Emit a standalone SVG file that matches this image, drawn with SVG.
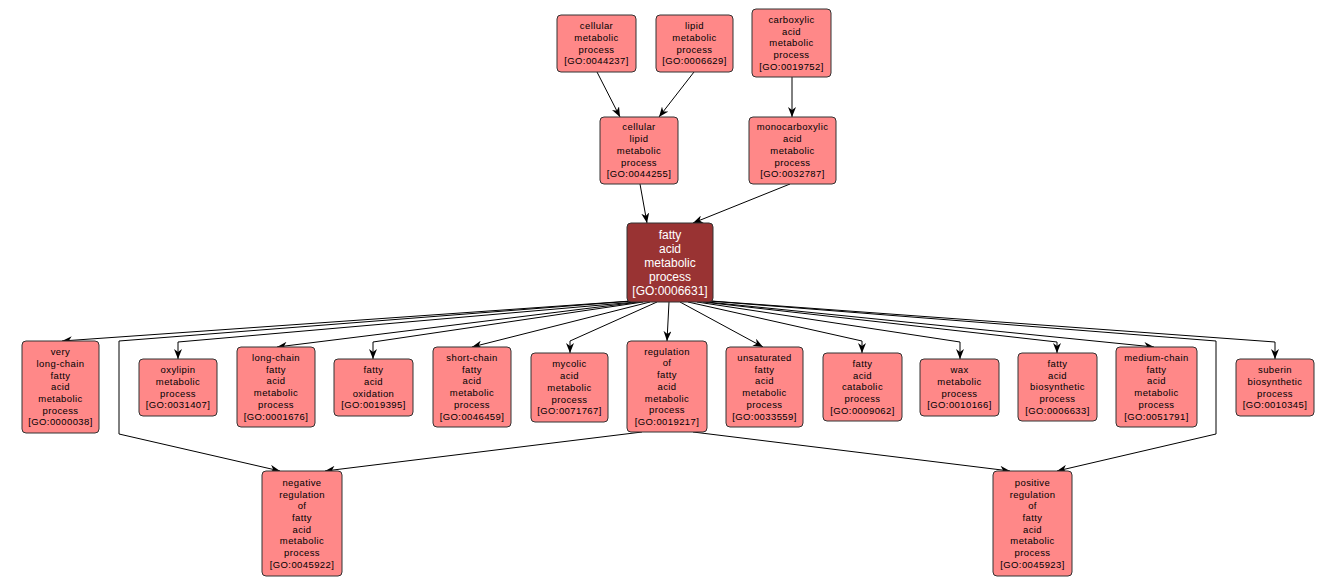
<svg xmlns="http://www.w3.org/2000/svg" width="1338" height="585" viewBox="0 0 1338 585">
<style>
.n rect{fill:#FF8888;stroke:#333;stroke-width:1}
.c rect{fill:#993333;stroke:#333;stroke-width:1}
.n text{font-family:"Liberation Sans",Arial,sans-serif;font-size:9.5px;letter-spacing:0.4px;fill:#000;text-anchor:middle}
.c text{font-family:"Liberation Sans",Arial,sans-serif;font-size:12px;fill:#fff;text-anchor:middle}
#edges path{fill:none;stroke:#000;stroke-width:1;marker-end:url(#a)}
</style>
<defs>
<marker id="a" markerWidth="10" markerHeight="8" refX="10" refY="4" orient="auto" markerUnits="userSpaceOnUse"><path d="M0,0 L10,4 L0,8 L3,4 z" fill="#000"/></marker>
</defs>
<rect width="1338" height="585" fill="#fff"/>
<g id="edges">
<path d="M597,72 L620,117"/>
<path d="M694,72 L659,117"/>
<path d="M792,77 L792,117"/>
<path d="M640,184 L647,223"/>
<path d="M790,184 L693,223"/>
<path d="M631,301 L62,341"/>
<path d="M633,301 L119,341 L119,434 L280,471"/>
<path d="M636,302 L178,342 L178,359"/>
<path d="M639,302 L277,347"/>
<path d="M643,302 L373,342 L373,359"/>
<path d="M650,302 L472,347"/>
<path d="M657,302 L570,341 L570,353"/>
<path d="M669,302 L667,341"/>
<path d="M680,302 L763,347"/>
<path d="M688,302 L862,341 L862,353"/>
<path d="M697,302 L960,342 L960,359"/>
<path d="M703,302 L1057,342 L1057,353"/>
<path d="M707,302 L1154,347"/>
<path d="M709,301 L1216,341 L1216,434 L1057,471"/>
<path d="M711,301 L1275,342 L1275,359"/>
<path d="M642,432 L325,471"/>
<path d="M693,432 L1010,471"/>
</g>
<g id="GO0044237" class="n"><rect x="557" y="15" width="79" height="57" rx="4"/><text y="29.25"><tspan x="596.5">cellular</tspan><tspan x="596.5" dy="11.7">metabolic</tspan><tspan x="596.5" dy="11.7">process</tspan><tspan x="596.5" dy="11.7">[GO:0044237]</tspan></text></g>
<g id="GO0006629" class="n"><rect x="656" y="15" width="77" height="57" rx="4"/><text y="29.25"><tspan x="694.5">lipid</tspan><tspan x="694.5" dy="11.7">metabolic</tspan><tspan x="694.5" dy="11.7">process</tspan><tspan x="694.5" dy="11.7">[GO:0006629]</tspan></text></g>
<g id="GO0019752" class="n"><rect x="752" y="9" width="79" height="68" rx="4"/><text y="22.9"><tspan x="791.5">carboxylic</tspan><tspan x="791.5" dy="11.7">acid</tspan><tspan x="791.5" dy="11.7">metabolic</tspan><tspan x="791.5" dy="11.7">process</tspan><tspan x="791.5" dy="11.7">[GO:0019752]</tspan></text></g>
<g id="GO0044255" class="n"><rect x="600" y="117" width="78" height="67" rx="4"/><text y="130.4"><tspan x="639">cellular</tspan><tspan x="639" dy="11.7">lipid</tspan><tspan x="639" dy="11.7">metabolic</tspan><tspan x="639" dy="11.7">process</tspan><tspan x="639" dy="11.7">[GO:0044255]</tspan></text></g>
<g id="GO0032787" class="n"><rect x="749" y="117" width="87" height="67" rx="4"/><text y="130.4"><tspan x="792.5">monocarboxylic</tspan><tspan x="792.5" dy="11.7">acid</tspan><tspan x="792.5" dy="11.7">metabolic</tspan><tspan x="792.5" dy="11.7">process</tspan><tspan x="792.5" dy="11.7">[GO:0032787]</tspan></text></g>
<g id="GO0006631" class="c"><rect x="627" y="223" width="86" height="79" rx="4"/><text y="238.8"><tspan x="670">fatty</tspan><tspan x="670" dy="14">acid</tspan><tspan x="670" dy="14">metabolic</tspan><tspan x="670" dy="14">process</tspan><tspan x="670" dy="14">[GO:0006631]</tspan></text></g>
<g id="GO0000038" class="n"><rect x="22" y="341" width="77" height="92" rx="4"/><text y="355.2"><tspan x="60.5">very</tspan><tspan x="60.5" dy="11.7">long-chain</tspan><tspan x="60.5" dy="11.7">fatty</tspan><tspan x="60.5" dy="11.7">acid</tspan><tspan x="60.5" dy="11.7">metabolic</tspan><tspan x="60.5" dy="11.7">process</tspan><tspan x="60.5" dy="11.7">[GO:0000038]</tspan></text></g>
<g id="GO0031407" class="n"><rect x="139" y="359" width="78" height="57" rx="4"/><text y="373.25"><tspan x="178">oxylipin</tspan><tspan x="178" dy="11.7">metabolic</tspan><tspan x="178" dy="11.7">process</tspan><tspan x="178" dy="11.7">[GO:0031407]</tspan></text></g>
<g id="GO0001676" class="n"><rect x="237" y="347" width="78" height="80" rx="4"/><text y="361.05"><tspan x="276">long-chain</tspan><tspan x="276" dy="11.7">fatty</tspan><tspan x="276" dy="11.7">acid</tspan><tspan x="276" dy="11.7">metabolic</tspan><tspan x="276" dy="11.7">process</tspan><tspan x="276" dy="11.7">[GO:0001676]</tspan></text></g>
<g id="GO0019395" class="n"><rect x="334" y="359" width="79" height="57" rx="4"/><text y="373.25"><tspan x="373.5">fatty</tspan><tspan x="373.5" dy="11.7">acid</tspan><tspan x="373.5" dy="11.7">oxidation</tspan><tspan x="373.5" dy="11.7">[GO:0019395]</tspan></text></g>
<g id="GO0046459" class="n"><rect x="433" y="347" width="78" height="80" rx="4"/><text y="361.05"><tspan x="472">short-chain</tspan><tspan x="472" dy="11.7">fatty</tspan><tspan x="472" dy="11.7">acid</tspan><tspan x="472" dy="11.7">metabolic</tspan><tspan x="472" dy="11.7">process</tspan><tspan x="472" dy="11.7">[GO:0046459]</tspan></text></g>
<g id="GO0071767" class="n"><rect x="531" y="353" width="77" height="69" rx="4"/><text y="367.4"><tspan x="569.5">mycolic</tspan><tspan x="569.5" dy="11.7">acid</tspan><tspan x="569.5" dy="11.7">metabolic</tspan><tspan x="569.5" dy="11.7">process</tspan><tspan x="569.5" dy="11.7">[GO:0071767]</tspan></text></g>
<g id="GO0019217" class="n"><rect x="627" y="341" width="80" height="91" rx="4"/><text y="354.7"><tspan x="667">regulation</tspan><tspan x="667" dy="11.7">of</tspan><tspan x="667" dy="11.7">fatty</tspan><tspan x="667" dy="11.7">acid</tspan><tspan x="667" dy="11.7">metabolic</tspan><tspan x="667" dy="11.7">process</tspan><tspan x="667" dy="11.7">[GO:0019217]</tspan></text></g>
<g id="GO0033559" class="n"><rect x="726" y="347" width="77" height="80" rx="4"/><text y="361.05"><tspan x="764.5">unsaturated</tspan><tspan x="764.5" dy="11.7">fatty</tspan><tspan x="764.5" dy="11.7">acid</tspan><tspan x="764.5" dy="11.7">metabolic</tspan><tspan x="764.5" dy="11.7">process</tspan><tspan x="764.5" dy="11.7">[GO:0033559]</tspan></text></g>
<g id="GO0009062" class="n"><rect x="823" y="353" width="79" height="68" rx="4"/><text y="366.9"><tspan x="862.5">fatty</tspan><tspan x="862.5" dy="11.7">acid</tspan><tspan x="862.5" dy="11.7">catabolic</tspan><tspan x="862.5" dy="11.7">process</tspan><tspan x="862.5" dy="11.7">[GO:0009062]</tspan></text></g>
<g id="GO0010166" class="n"><rect x="920" y="359" width="79" height="57" rx="4"/><text y="373.25"><tspan x="959.5">wax</tspan><tspan x="959.5" dy="11.7">metabolic</tspan><tspan x="959.5" dy="11.7">process</tspan><tspan x="959.5" dy="11.7">[GO:0010166]</tspan></text></g>
<g id="GO0006633" class="n"><rect x="1018" y="353" width="79" height="68" rx="4"/><text y="366.9"><tspan x="1057.5">fatty</tspan><tspan x="1057.5" dy="11.7">acid</tspan><tspan x="1057.5" dy="11.7">biosynthetic</tspan><tspan x="1057.5" dy="11.7">process</tspan><tspan x="1057.5" dy="11.7">[GO:0006633]</tspan></text></g>
<g id="GO0051791" class="n"><rect x="1116" y="347" width="81" height="80" rx="4"/><text y="361.05"><tspan x="1156.5">medium-chain</tspan><tspan x="1156.5" dy="11.7">fatty</tspan><tspan x="1156.5" dy="11.7">acid</tspan><tspan x="1156.5" dy="11.7">metabolic</tspan><tspan x="1156.5" dy="11.7">process</tspan><tspan x="1156.5" dy="11.7">[GO:0051791]</tspan></text></g>
<g id="GO0010345" class="n"><rect x="1236" y="359" width="78" height="57" rx="4"/><text y="373.25"><tspan x="1275">suberin</tspan><tspan x="1275" dy="11.7">biosynthetic</tspan><tspan x="1275" dy="11.7">process</tspan><tspan x="1275" dy="11.7">[GO:0010345]</tspan></text></g>
<g id="GO0045922" class="n"><rect x="262" y="471" width="80" height="105" rx="4"/><text y="485.85"><tspan x="302">negative</tspan><tspan x="302" dy="11.7">regulation</tspan><tspan x="302" dy="11.7">of</tspan><tspan x="302" dy="11.7">fatty</tspan><tspan x="302" dy="11.7">acid</tspan><tspan x="302" dy="11.7">metabolic</tspan><tspan x="302" dy="11.7">process</tspan><tspan x="302" dy="11.7">[GO:0045922]</tspan></text></g>
<g id="GO0045923" class="n"><rect x="993" y="471" width="79" height="105" rx="4"/><text y="485.85"><tspan x="1032.5">positive</tspan><tspan x="1032.5" dy="11.7">regulation</tspan><tspan x="1032.5" dy="11.7">of</tspan><tspan x="1032.5" dy="11.7">fatty</tspan><tspan x="1032.5" dy="11.7">acid</tspan><tspan x="1032.5" dy="11.7">metabolic</tspan><tspan x="1032.5" dy="11.7">process</tspan><tspan x="1032.5" dy="11.7">[GO:0045923]</tspan></text></g>
</svg>
